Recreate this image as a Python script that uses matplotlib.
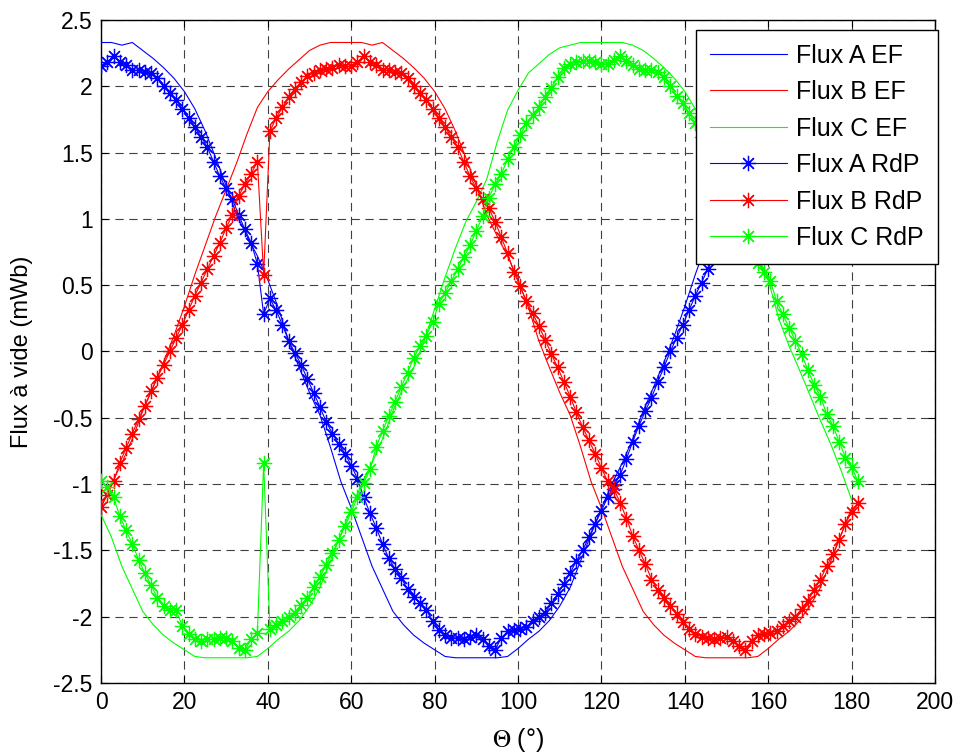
import numpy as np
import matplotlib
matplotlib.use('Agg')
import matplotlib.pyplot as plt

plt.rcParams['font.family'] = ['Liberation Sans', 'DejaVu Sans']
plt.rcParams['axes.unicode_minus'] = False
plt.rcParams['mathtext.fontset'] = 'stix'
plt.rcParams['lines.scale_dashes'] = False

# ---------------- data ----------------
theta_ef = np.arange(0, 180.1, 2.5)      # EF sampling (deg)
theta_rdp = np.arange(0, 182, 1.5)       # RdP sampling (deg)

ef_a = [2.33, 2.33, 2.31, 2.33, 2.27, 2.21, 2.14, 2.06, 1.96, 1.83,
        1.66, 1.46, 1.25, 1.03, 0.87, 0.72, 0.54, 0.33, 0.08, -0.12,
        -0.31, -0.48, -0.72, -0.98, -1.18, -1.40, -1.62, -1.79, -1.96, -2.06,
        -2.14, -2.20, -2.25, -2.30, -2.31, -2.31, -2.31, -2.31, -2.31, -2.30,
        -2.24, -2.17, -2.11, -2.03, -1.92, -1.78, -1.58, -1.38, -1.18, -1.00,
        -0.84, -0.66, -0.45, -0.27, -0.08, 0.12, 0.34, 0.58, 0.80, 1.02,
        1.22, 1.42, 1.64, 1.84, 1.96, 2.05, 2.13, 2.20, 2.27, 2.31,
        2.33, 2.33, 2.33]

ef_b = [-1.18, -1.00, -0.84, -0.66, -0.45, -0.27, -0.08, 0.12, 0.34, 0.58,
        0.80, 1.02, 1.22, 1.42, 1.64, 1.84, 1.96, 2.05, 2.13, 2.20,
        2.27, 2.31, 2.33, 2.33, 2.33, 2.33, 2.31, 2.33, 2.27, 2.21,
        2.14, 2.06, 1.96, 1.83, 1.66, 1.46, 1.25, 1.03, 0.87, 0.72,
        0.54, 0.33, 0.08, -0.12, -0.31, -0.48, -0.72, -0.98, -1.18, -1.40,
        -1.62, -1.79, -1.96, -2.06, -2.14, -2.20, -2.25, -2.30, -2.31, -2.31,
        -2.31, -2.31, -2.31, -2.30, -2.24, -2.17, -2.11, -2.03, -1.92, -1.78,
        -1.58, -1.38, -1.18]

ef_c = [-1.23, -1.40, -1.62, -1.79, -1.96, -2.06, -2.14, -2.20, -2.25, -2.30,
        -2.31, -2.31, -2.31, -2.31, -2.31, -2.30, -2.24, -2.17, -2.11, -2.03,
        -1.92, -1.78, -1.58, -1.38, -1.18, -1.00, -0.84, -0.66, -0.45, -0.27,
        -0.12, 0.08, 0.32, 0.56, 0.78, 0.98, 1.13, 1.30, 1.58, 1.82,
        1.97, 2.10, 2.17, 2.24, 2.29, 2.31, 2.33, 2.33, 2.33, 2.33,
        2.33, 2.31, 2.27, 2.21, 2.14, 2.06, 1.96, 1.83, 1.66, 1.46,
        1.25, 1.03, 0.87, 0.72, 0.54, 0.25, 0.04, -0.14, -0.33, -0.52,
        -0.70, -0.90, -1.12]

rdp_a = [2.15, 2.18, 2.23, 2.18, 2.16, 2.12, 2.12, 2.11, 2.10, 2.06,
         2.00, 1.95, 1.90, 1.83, 1.76, 1.69, 1.62, 1.54, 1.43, 1.32,
         1.23, 1.15, 1.03, 0.92, 0.82, 0.66, 0.28, 0.40, 0.31, 0.20,
         0.08, -0.01, -0.10, -0.21, -0.31, -0.42, -0.53, -0.62, -0.70, -0.77,
         -0.86, -0.96, -1.10, -1.22, -1.33, -1.45, -1.56, -1.64, -1.71, -1.79,
         -1.85, -1.90, -1.95, -2.03, -2.10, -2.14, -2.16, -2.16, -2.17, -2.15,
         -2.14, -2.17, -2.22, -2.25, -2.16, -2.11, -2.10, -2.09, -2.08, -2.03,
         -2.00, -1.97, -1.90, -1.83, -1.75, -1.67, -1.58, -1.50, -1.40, -1.30,
         -1.20, -1.10, -1.01, -0.93, -0.81, -0.68, -0.56, -0.45, -0.35, -0.23,
         -0.12, 0.00, 0.10, 0.20, 0.31, 0.42, 0.52, 0.62, 0.72, 0.82,
         0.93, 1.03, 1.13, 1.22, 1.32, 1.43, 1.55, 1.66, 1.76, 1.84,
         1.92, 1.98, 2.03, 2.08, 2.10, 2.12, 2.13, 2.14, 2.16, 2.15,
         2.15, 2.18]

rdp_b = [-1.17, -1.08, -0.98, -0.84, -0.73, -0.62, -0.51, -0.41, -0.30, -0.20,
         -0.10, 0.00, 0.10, 0.20, 0.31, 0.42, 0.52, 0.62, 0.72, 0.82,
         0.93, 1.03, 1.17, 1.26, 1.34, 1.43, 0.58, 1.66, 1.76, 1.84,
         1.92, 1.98, 2.03, 2.08, 2.10, 2.12, 2.13, 2.14, 2.16, 2.15,
         2.15, 2.18, 2.23, 2.18, 2.16, 2.12, 2.12, 2.11, 2.10, 2.06,
         2.00, 1.95, 1.90, 1.83, 1.76, 1.69, 1.62, 1.54, 1.43, 1.32,
         1.23, 1.15, 1.08, 0.98, 0.86, 0.74, 0.60, 0.49, 0.38, 0.29,
         0.19, 0.09, -0.02, -0.12, -0.23, -0.34, -0.46, -0.57, -0.67, -0.77,
         -0.88, -0.98, -1.04, -1.14, -1.26, -1.39, -1.50, -1.60, -1.72, -1.80,
         -1.86, -1.92, -1.98, -2.04, -2.09, -2.13, -2.15, -2.16, -2.17, -2.16,
         -2.15, -2.18, -2.22, -2.25, -2.18, -2.14, -2.13, -2.12, -2.11, -2.07,
         -2.03, -2.00, -1.94, -1.88, -1.80, -1.72, -1.62, -1.53, -1.42, -1.30,
         -1.21, -1.14]

rdp_c = [-0.98, -1.02, -1.10, -1.24, -1.35, -1.45, -1.57, -1.67, -1.76, -1.86,
         -1.92, -1.95, -1.95, -2.07, -2.13, -2.17, -2.18, -2.17, -2.17, -2.16,
         -2.16, -2.18, -2.24, -2.25, -2.17, -2.12, -0.84, -2.09, -2.06, -2.03,
         -2.00, -1.97, -1.91, -1.86, -1.78, -1.70, -1.61, -1.52, -1.42, -1.32,
         -1.21, -1.10, -0.99, -0.89, -0.72, -0.60, -0.49, -0.38, -0.27, -0.16,
         -0.05, 0.04, 0.12, 0.22, 0.36, 0.44, 0.53, 0.62, 0.71, 0.80,
         0.91, 1.02, 1.16, 1.26, 1.34, 1.45, 1.54, 1.63, 1.72, 1.78,
         1.84, 1.92, 1.99, 2.07, 2.14, 2.17, 2.18, 2.19, 2.19, 2.18,
         2.17, 2.17, 2.20, 2.23, 2.19, 2.16, 2.13, 2.12, 2.12, 2.11,
         2.07, 2.00, 1.93, 1.87, 1.80, 1.72, 1.62, 1.52, 1.40, 1.28,
         1.17, 1.06, 0.96, 0.86, 0.76, 0.67, 0.60, 0.53, 0.38, 0.28,
         0.18, 0.08, -0.02, -0.14, -0.25, -0.34, -0.47, -0.56, -0.68, -0.80,
         -0.87, -0.98]

ef_labels = ['Flux A EF', 'Flux B EF', 'Flux C EF']
rdp_labels = ['Flux A RdP', 'Flux B RdP', 'Flux C RdP']
phase_colors = ['#0000ff', '#ff0000', '#00ff00']

xticks = [0, 20, 40, 60, 80, 100, 120, 140, 160, 180, 200]
yticks = [-2.5, -2, -1.5, -1, -0.5, 0, 0.5, 1, 1.5, 2, 2.5]
yticklabels = ['-2.5', '-2', '-1.5', '-1', '-0.5', '0', '0.5', '1', '1.5', '2', '2.5']

# ---------------- figure ----------------
fig = plt.figure(figsize=(9.62, 7.53), dpi=100)
ax = fig.add_axes([0.105, 0.093, 0.867, 0.8805])

ast = (8, 2, 0)  # asterisk marker like MATLAB '*'

for ys, lab, col in zip([ef_a, ef_b, ef_c], ef_labels, phase_colors):
    ax.plot(theta_ef, ys, '-', color=col, lw=0.8, label=lab, zorder=3)

for ys, lab, col in zip([rdp_a, rdp_b, rdp_c], rdp_labels, phase_colors):
    ax.plot(theta_rdp, ys, '-', color=col, lw=0.8, marker=ast,
            markersize=11, markeredgewidth=0.9, label=lab, zorder=4)

ax.set_xlim(0, 200)
ax.set_ylim(-2.5, 2.5)
ax.set_xticks(xticks)
ax.set_xticklabels([str(t) for t in xticks])
ax.set_yticks(yticks)
ax.set_yticklabels(yticklabels)

ax.grid(True, color='0.25', linestyle=(0, (6, 4)), linewidth=0.8)
ax.set_axisbelow(True)
ax.tick_params(direction='in', length=5, width=0.8, top=True, right=True,
               labelsize=16.5, pad=6, colors='black')
for sp in ax.spines.values():
    sp.set_linewidth(1.0)
    sp.set_color('black')

ax.set_xlabel(r'$\Theta$ (°)', fontsize=18)
ax.set_ylabel('Flux à vide (mWb)', fontsize=17)
ax.xaxis.set_label_coords(0.5, -0.086)
ax.xaxis.label.set_verticalalignment('center')
ax.yaxis.set_label_coords(-0.0947, 0.5)
ax.yaxis.label.set_verticalalignment('center')

leg = ax.legend(loc='upper right', bbox_to_anchor=(1.003, 0.985),
                borderaxespad=0, fontsize=18, handlelength=3.1,
                numpoints=1, fancybox=False, framealpha=1,
                edgecolor='black', labelspacing=0.5, handletextpad=0.36,
                borderpad=0.55)
leg.get_frame().set_linewidth(1.0)

fig.savefig('out.png', dpi=100)
